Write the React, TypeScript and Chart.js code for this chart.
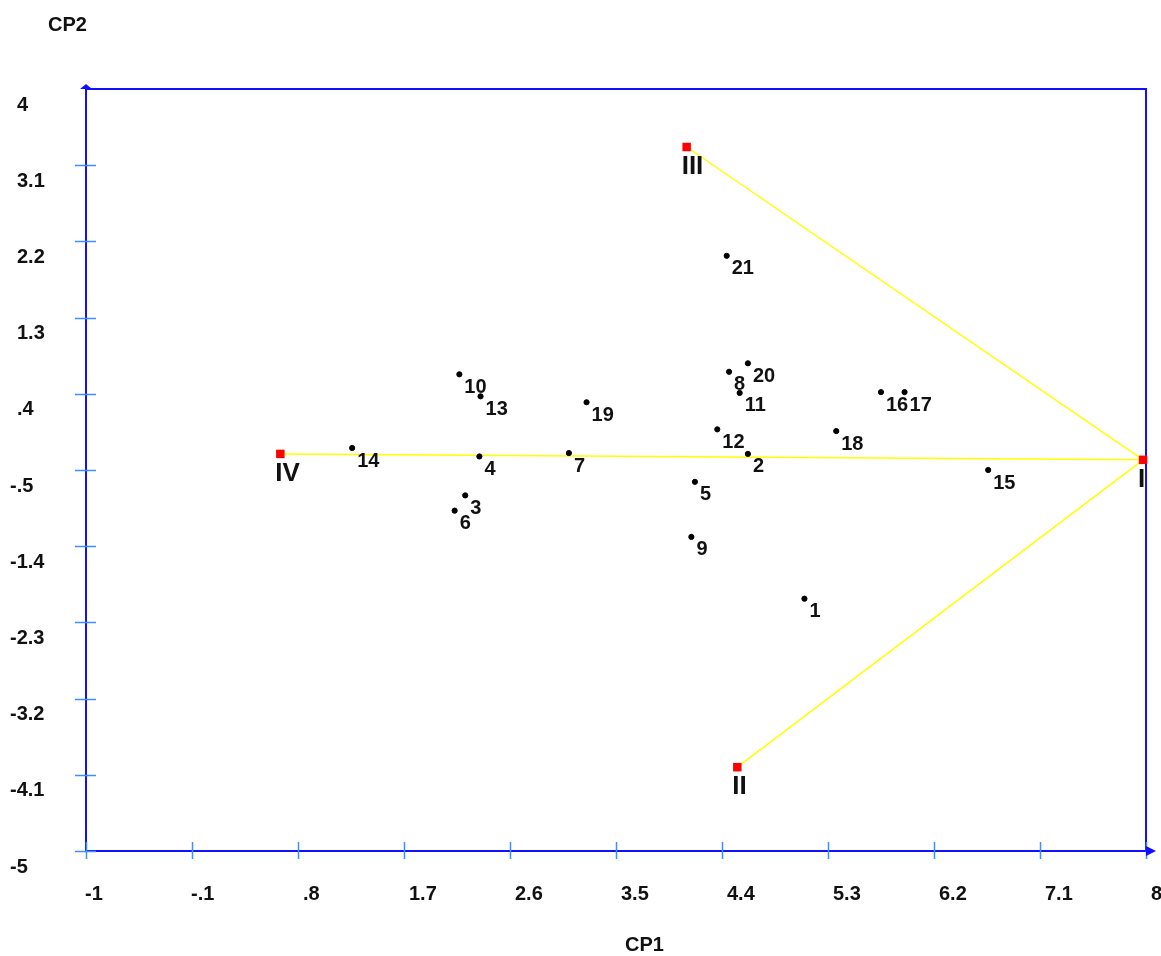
import React, { useEffect, useRef } from "react";
import { Chart, registerables } from "chart.js";

Chart.register(...registerables);

// Observation scores (CP1, CP2)
const pointNames = ["1","2","3","4","5","6","7","8","9","10","11","12","13","14","15","16","17","18","19","20","21"];
const pointCP1 = [5.10, 4.62, 2.22, 2.34, 4.17, 2.13, 3.10, 4.46, 4.14, 2.17, 4.55, 4.36, 2.35, 1.26, 6.66, 5.75, 5.95, 5.37, 3.25, 4.62, 4.44];
const pointCP2 = [-2.02, -0.31, -0.80, -0.34, -0.64, -0.98, -0.30, 0.66, -1.29, 0.63, 0.41, -0.02, 0.37, -0.24, -0.50, 0.42, 0.42, -0.04, 0.30, 0.76, 2.03];

// Group centroids
const groupNames = ["I", "II", "III", "IV"];
const groupCP1 = [7.975, 4.53, 4.10, 0.65];
const groupCP2 = [-0.38, -4.01, 3.315, -0.31];

// Axis ticks
const xTickValues = [-1, -0.1, 0.8, 1.7, 2.6, 3.5, 4.4, 5.3, 6.2, 7.1, 8];
const xTickLabels = ["-1", "-.1", ".8", "1.7", "2.6", "3.5", "4.4", "5.3", "6.2", "7.1", "8"];
const yTickValues = [4, 3.1, 2.2, 1.3, 0.4, -0.5, -1.4, -2.3, -3.2, -4.1, -5];
const yTickLabels = ["4", "3.1", "2.2", "1.3", ".4", "-.5", "-1.4", "-2.3", "-3.2", "-4.1", "-5"];

const xTitle = "CP1";
const yTitle = "CP2";

const FONT = '"Liberation Sans", Arial, sans-serif';

export default function App() {
  const ref = useRef<HTMLCanvasElement | null>(null);

  useEffect(() => {
    const canvas = ref.current;
    if (!canvas) return;

    const points = pointCP1.map((x, i) => ({ x, y: pointCP2[i] }));
    const groups = groupCP1.map((x, i) => ({ x, y: groupCP2[i] }));
    const links = [1, 2, 3].map((j) => [groups[0], groups[j]]);

    const framePlugin = {
      id: "frame",
      beforeDatasetsDraw(chart: any) {
        const { ctx, chartArea, scales } = chart;
        const xs = scales.x;
        const ys = scales.y;
        const L = chartArea.left, R = chartArea.right, T = chartArea.top, B = chartArea.bottom;
        ctx.save();
        ctx.strokeStyle = "#1010ff";
        ctx.lineWidth = 2;
        ctx.beginPath();
        ctx.moveTo(L, B);
        ctx.lineTo(L, T);
        ctx.lineTo(R, T);
        ctx.lineTo(R, B);
        ctx.moveTo(L, B);
        ctx.lineTo(R, B);
        ctx.stroke();
        // ticks
        ctx.strokeStyle = "#3a90ff";
        ctx.lineWidth = 1.5;
        ctx.beginPath();
        xTickValues.forEach((v) => {
          const px = Math.round(xs.getPixelForValue(v)) + 0.5;
          ctx.moveTo(px, B - 9);
          ctx.lineTo(px, B + 8);
        });
        yTickValues.forEach((v, i) => {
          if (i === 0) return;
          const py = Math.round(ys.getPixelForValue(v)) + 0.5;
          ctx.moveTo(L - 11, py);
          ctx.lineTo(L + 10, py);
        });
        ctx.stroke();
        // arrows
        ctx.fillStyle = "#1010ff";
        ctx.beginPath();
        ctx.moveTo(L - 6, T);
        ctx.lineTo(L, T - 5);
        ctx.lineTo(L + 6, T);
        ctx.closePath();
        ctx.fill();
        ctx.beginPath();
        ctx.moveTo(R, B - 5);
        ctx.lineTo(R + 10, B);
        ctx.lineTo(R, B + 5);
        ctx.closePath();
        ctx.fill();

        // tick labels
        ctx.fillStyle = "#111";
        ctx.font = `bold 20px ${FONT}`;
        ctx.textBaseline = "middle";
        ctx.textAlign = "left";
        xTickValues.forEach((v, i) => {
          const px = xs.getPixelForValue(v);
          const lab = xTickLabels[i];
          ctx.fillText(lab, px + (lab.startsWith("-") ? -1 : 5), B + 43);
        });
        yTickValues.forEach((v, i) => {
          const py = ys.getPixelForValue(v);
          const lab = yTickLabels[i];
          ctx.fillText(lab, lab.startsWith("-") ? 10 : 17, py + 16);
        });
        // titles
        ctx.fillText(yTitle, 48, 25);
        ctx.fillText(xTitle, 625, 945);
        ctx.restore();
      },
      afterDatasetsDraw(chart: any) {
        const { ctx } = chart;
        ctx.save();
        ctx.fillStyle = "#111";
        ctx.textBaseline = "middle";
        ctx.textAlign = "left";
        ctx.font = `bold 20px ${FONT}`;
        const meta = chart.getDatasetMeta(1);
        meta.data.forEach((el: any, i: number) => {
          ctx.fillText(pointNames[i], el.x + 5, el.y + 13);
        });
        ctx.font = `bold 26px ${FONT}`;
        const gm = chart.getDatasetMeta(0);
        gm.data.forEach((el: any, i: number) => {
          ctx.fillText(groupNames[i], el.x - 5, el.y + 20);
        });
        ctx.restore();
      },
    };

    const chart = new Chart(canvas, {
      type: "scatter",
      data: {
        datasets: [
          {
            data: groups,
            pointStyle: "rect",
            pointRadius: 6,
            pointBackgroundColor: "#ff0000",
            pointBorderColor: "#ff0000",
            pointBorderWidth: 0,
            clip: false as any,
          },
          {
            data: points,
            pointRadius: 2.6,
            pointBackgroundColor: "#000",
            pointBorderColor: "#000",
            pointBorderWidth: 1,
            clip: false as any,
          },
          ...links.map((pts) => ({
            data: pts,
            showLine: true,
            borderColor: "#ffff00",
            borderWidth: 1.5,
            pointRadius: 0,
            clip: false as any,
          })),
        ],
      },
      options: {
        animation: false,
        responsive: false,
        devicePixelRatio: 1,
        layout: { padding: { left: 86, right: 15, top: 89, bottom: 105 } },
        scales: {
          x: { type: "linear", min: -1, max: 8, display: false },
          y: { type: "linear", min: -5, max: 4, display: false },
        },
        plugins: { legend: { display: false }, tooltip: { enabled: false } },
      },
      plugins: [framePlugin],
    } as any);

    return () => chart.destroy();
  }, []);

  return (
    <div style={{ position: "fixed", left: 0, top: 0, width: 1161, height: 956, background: "#fff" }}>
      <canvas ref={ref} width={1161} height={956} style={{ width: 1161, height: 956, display: "block" }} />
    </div>
  );
}
